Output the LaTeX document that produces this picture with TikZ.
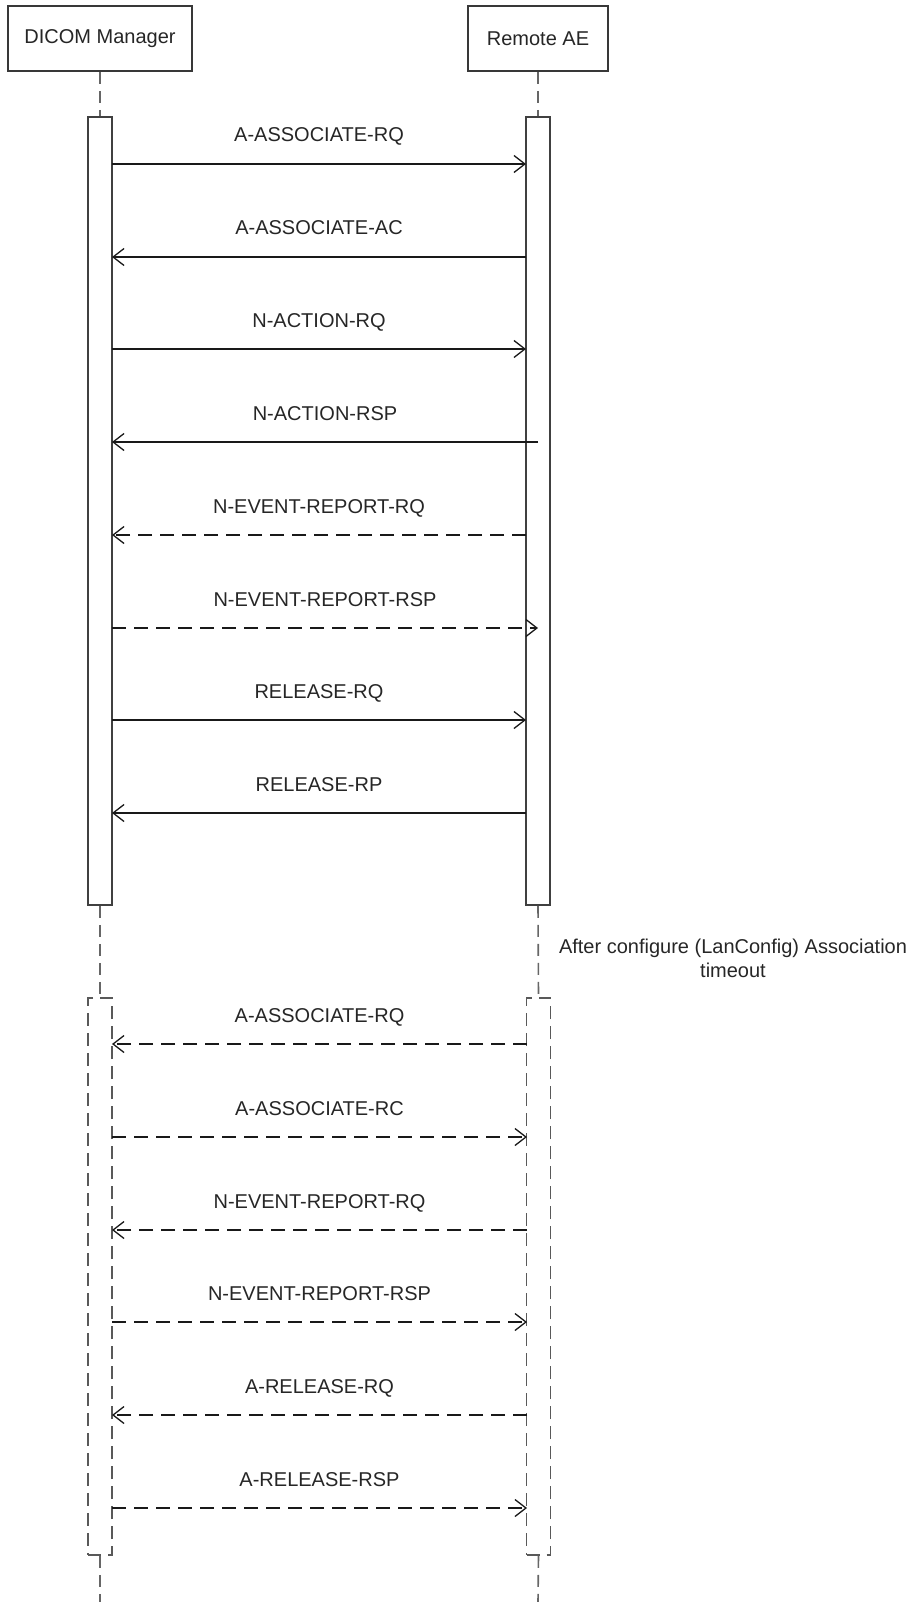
\documentclass[tikz,border=0pt]{standalone}
\usepackage{fontspec}
\setmainfont{Liberation Sans}
\usetikzlibrary{arrows.meta}
\begin{document}
\begin{tikzpicture}[x=1pt,y=-1pt,
  actor/.style={draw=black!78, line width=1.6pt, fill=white, minimum height=65pt,
    inner sep=0pt, font=\fontsize{20}{24}\selectfont, text=black!85},
  bar/.style={draw=black!75, line width=1.5pt, fill=white, minimum width=24pt, inner sep=0pt},
  dbar/.style={draw=black!65, line width=1.5pt, dash pattern=on 13pt off 7pt, minimum width=24pt, inner sep=0pt},
  life/.style={draw=black!60, line width=1.6pt, dash pattern=on 12pt off 7pt},
  msg/.style={draw=black!90, line width=1.3pt, -{Straight Barb[length=11pt,width=17pt]}},
  dmsg/.style={msg, dash pattern=on 14pt off 8pt},
  lbl/.style={font=\fontsize{20}{24}\selectfont, text=black!85, anchor=base, yshift=22pt, inner sep=0pt},
  note/.style={font=\fontsize{20}{24}\selectfont, text=black!85, anchor=base, inner sep=0pt}
]
\useasboundingbox (0,0) rectangle (917,1602);

% participants
\node[actor, minimum width=184pt] (dm) at (100,38.5) {DICOM Manager};
\node[actor, minimum width=140pt] (ae) at (538,38.5) {Remote AE};

% activation bars
\node[bar, minimum height=788pt] (L1) at (100,511) {};
\node[bar, minimum height=788pt] (R1) at (538,511) {};
\node[dbar, minimum height=557pt] (L2) at (100,1276.5) {};
\node[dbar, minimum height=557pt] (R2) at (538.5,1276.5) {};

% lifelines
\coordinate (Lend) at (100,1602);
\coordinate (Rend) at (538,1602);
\draw[life] (dm.south) -- (L1.north);
\draw[life] (ae.south) -- (R1.north);
\draw[life] (L1.south) -- (L2.north);
\draw[life] (R1.south) -- (R2.north);
\draw[life] (L2.south) -- (Lend);
\draw[life] (R2.south) -- (Rend);

% message end points
\coordinate (a1) at (112,164);  \coordinate (b1) at (526,164);
\coordinate (a2) at (112,257);  \coordinate (b2) at (526,257);
\coordinate (a3) at (112,349);  \coordinate (b3) at (526,349);
\coordinate (a4) at (112,442);  \coordinate (b4) at (538,442);
\coordinate (a5) at (112,535);  \coordinate (b5) at (526,535);
\coordinate (a6) at (112,628);  \coordinate (b6) at (538,628);
\coordinate (a7) at (112,720);  \coordinate (b7) at (526,720);
\coordinate (a8) at (112,813);  \coordinate (b8) at (526,813);
\coordinate (a9) at (112,1044);  \coordinate (b9) at (527,1044);
\coordinate (a10) at (112,1137); \coordinate (b10) at (527,1137);
\coordinate (a11) at (112,1230); \coordinate (b11) at (527,1230);
\coordinate (a12) at (112,1322); \coordinate (b12) at (527,1322);
\coordinate (a13) at (112,1415); \coordinate (b13) at (527,1415);
\coordinate (a14) at (112,1508); \coordinate (b14) at (527,1508);

% messages
\draw[msg]  (a1) -- node[lbl] (t1) {A-ASSOCIATE-RQ} (b1);
\draw[msg]  (b2) -- node[lbl] (t2) {A-ASSOCIATE-AC} (a2);
\draw[msg]  (a3) -- node[lbl] (t3) {N-ACTION-RQ} (b3);
\draw[msg]  (b4) -- node[lbl] (t4) {N-ACTION-RSP} (a4);
\draw[dmsg] (b5) -- node[lbl] (t5) {N-EVENT-REPORT-RQ} (a5);
\draw[dmsg] (a6) -- node[lbl] (t6) {N-EVENT-REPORT-RSP} (b6);
\draw[msg]  (a7) -- node[lbl] (t7) {RELEASE-RQ} (b7);
\draw[msg]  (b8) -- node[lbl] (t8) {RELEASE-RP} (a8);

\draw[dmsg] (b9) -- node[lbl] (t9) {A-ASSOCIATE-RQ} (a9);
\draw[dmsg] (a10) -- node[lbl] (t10) {A-ASSOCIATE-RC} (b10);
\draw[dmsg] (b11) -- node[lbl] (t11) {N-EVENT-REPORT-RQ} (a11);
\draw[dmsg] (a12) -- node[lbl] (t12) {N-EVENT-REPORT-RSP} (b12);
\draw[dmsg] (b13) -- node[lbl] (t13) {A-RELEASE-RQ} (a13);
\draw[dmsg] (a14) -- node[lbl] (t14) {A-RELEASE-RSP} (b14);

% note
\node[note] (nt1) at (733,953) {After configure (LanConfig) Association};
\node[note] (nt2) at (733,977) {timeout};
\end{tikzpicture}
\end{document}
